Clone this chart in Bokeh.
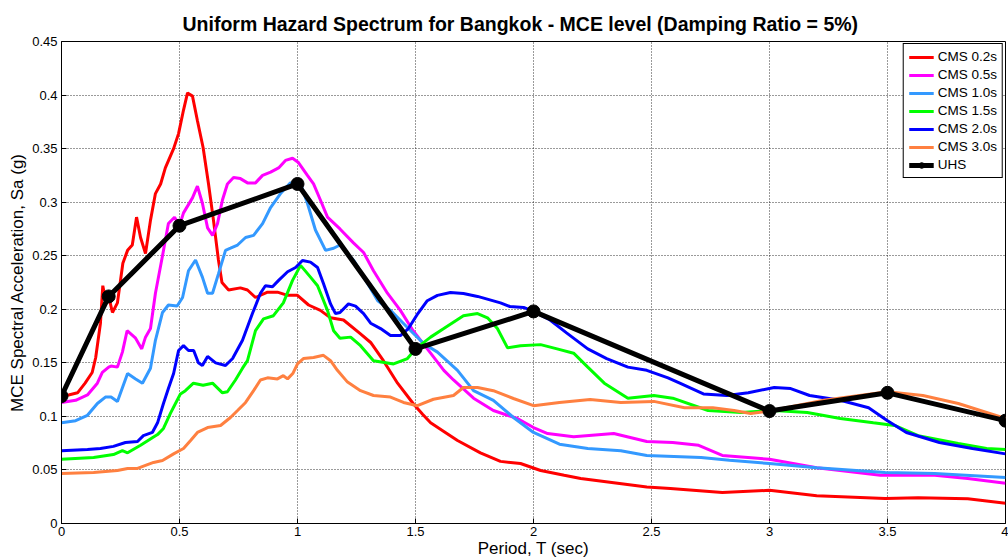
from bokeh.plotting import figure
from bokeh.models import Range1d, FixedTicker, Legend, LegendItem, CustomJSTickFormatter
from bokeh.embed import file_html
from bokeh.resources import INLINE

# Conditional mean spectra (CMS) anchored at six periods, and the UHS they envelope
cms02_T = [0, 0.03, 0.068, 0.1, 0.13, 0.145, 0.165, 0.175, 0.19, 0.2, 0.216, 0.237, 0.26, 0.28,
           0.30, 0.318, 0.335, 0.356, 0.377, 0.398, 0.42, 0.44, 0.475, 0.496, 0.517, 0.534, 0.555,
           0.576, 0.60, 0.623, 0.644, 0.665, 0.68, 0.708, 0.758, 0.788, 0.822, 0.873, 0.915, 0.958,
           1.0, 1.047, 1.097, 1.14, 1.195, 1.267, 1.31, 1.364, 1.424, 1.49, 1.53, 1.564, 1.62, 1.678,
           1.775, 1.86, 1.945, 2.03, 2.13, 2.2, 2.34, 2.48, 2.58, 2.8, 3.0, 3.2, 3.49, 3.63, 3.84, 4.0]
cms02_Sa = [0.119, 0.12, 0.122, 0.131, 0.141, 0.155, 0.187, 0.222, 0.205, 0.212, 0.197, 0.206, 0.243,
            0.255, 0.26, 0.286, 0.267, 0.252, 0.283, 0.308, 0.317, 0.332, 0.35, 0.364, 0.386, 0.402,
            0.399, 0.376, 0.351, 0.317, 0.283, 0.246, 0.225, 0.218, 0.220, 0.218, 0.211, 0.216, 0.216,
            0.213, 0.213, 0.204, 0.199, 0.192, 0.19, 0.177, 0.169, 0.152, 0.131, 0.112, 0.102, 0.094,
            0.086, 0.0775, 0.066, 0.058, 0.056, 0.0495, 0.045, 0.042, 0.038, 0.034, 0.0327, 0.029,
            0.031, 0.026, 0.0233, 0.024, 0.023, 0.019]

cms05_T = [0, 0.06, 0.11, 0.152, 0.173, 0.2, 0.21, 0.237, 0.258, 0.278, 0.314, 0.34, 0.356, 0.377,
           0.398, 0.428, 0.453, 0.479, 0.5, 0.517, 0.555, 0.576, 0.597, 0.619, 0.64, 0.661, 0.682,
           0.703, 0.729, 0.758, 0.788, 0.822, 0.852, 0.886, 0.92, 0.949, 0.979, 1.004, 1.042, 1.068,
           1.097, 1.127, 1.18, 1.237, 1.28, 1.322, 1.381, 1.436, 1.49, 1.564, 1.62, 1.661, 1.746,
           1.83, 1.932, 2.0, 2.06, 2.17, 2.34, 2.48, 2.59, 2.7, 2.8, 3.0, 3.2, 3.47, 3.7, 3.84, 4.0]
cms05_Sa = [0.113, 0.115, 0.12, 0.131, 0.141, 0.146, 0.147, 0.146, 0.16, 0.18, 0.173, 0.163, 0.174,
            0.182, 0.215, 0.25, 0.28, 0.286, 0.278, 0.29, 0.304, 0.315, 0.299, 0.276, 0.269, 0.28,
            0.302, 0.317, 0.323, 0.322, 0.318, 0.318, 0.325, 0.328, 0.332, 0.339, 0.341, 0.337, 0.325,
            0.317, 0.302, 0.286, 0.275, 0.262, 0.253, 0.236, 0.215, 0.199, 0.18, 0.159, 0.143, 0.134,
            0.117, 0.1055, 0.098, 0.0896, 0.084, 0.081, 0.084, 0.0766, 0.0756, 0.073, 0.0635, 0.06,
            0.052, 0.045, 0.045, 0.042, 0.0375]

cms10_T = [0, 0.06, 0.11, 0.152, 0.186, 0.21, 0.237, 0.28, 0.314, 0.343, 0.377, 0.398, 0.428, 0.453,
           0.49, 0.513, 0.538, 0.568, 0.597, 0.619, 0.64, 0.665, 0.695, 0.716, 0.746, 0.78, 0.814,
           0.852, 0.886, 0.928, 0.97, 1.0, 1.013, 1.042, 1.076, 1.119, 1.153, 1.18, 1.24, 1.297, 1.34,
           1.394, 1.466, 1.534, 1.593, 1.678, 1.746, 1.83, 1.915, 2.0, 2.11, 2.23, 2.37, 2.48, 2.71,
           2.83, 3.0, 3.2, 3.49, 3.7, 4.0]
cms10_Sa = [0.094, 0.096, 0.101, 0.112, 0.118, 0.118, 0.114, 0.14, 0.135, 0.131, 0.145, 0.171, 0.197,
            0.204, 0.203, 0.211, 0.236, 0.246, 0.23, 0.215, 0.215, 0.233, 0.255, 0.257, 0.26, 0.267,
            0.269, 0.28, 0.295, 0.308, 0.318, 0.317, 0.317, 0.299, 0.274, 0.255, 0.257, 0.26, 0.245,
            0.224, 0.208, 0.199, 0.183, 0.168, 0.16, 0.143, 0.124, 0.115, 0.099, 0.085, 0.074, 0.070,
            0.068, 0.0635, 0.0616, 0.059, 0.056, 0.052, 0.0476, 0.0467, 0.043]

cms15_T = [0, 0.136, 0.22, 0.258, 0.28, 0.335, 0.385, 0.407, 0.432, 0.462, 0.483, 0.504, 0.525, 0.559,
           0.6, 0.64, 0.682, 0.703, 0.737, 0.767, 0.788, 0.822, 0.856, 0.898, 0.94, 0.979, 1.013,
           1.055, 1.085, 1.127, 1.153, 1.18, 1.225, 1.267, 1.322, 1.407, 1.466, 1.5, 1.564, 1.62,
           1.703, 1.763, 1.805, 1.847, 1.89, 1.945, 2.03, 2.1, 2.17, 2.23, 2.3, 2.4, 2.51, 2.59, 2.74,
           2.88, 3.02, 3.16, 3.3, 3.44, 3.53, 3.63, 3.8, 3.92, 4.0]
cms15_Sa = [0.06, 0.0616, 0.0644, 0.068, 0.066, 0.073, 0.080, 0.083, 0.0887, 0.103, 0.112, 0.121,
            0.124, 0.131, 0.129, 0.131, 0.122, 0.123, 0.134, 0.145, 0.152, 0.18, 0.191, 0.194, 0.206,
            0.227, 0.241, 0.23, 0.222, 0.199, 0.18, 0.173, 0.174, 0.166, 0.152, 0.149, 0.154, 0.163,
            0.174, 0.182, 0.194, 0.196, 0.192, 0.182, 0.164, 0.166, 0.167, 0.163, 0.159, 0.146, 0.131,
            0.117, 0.1195, 0.117, 0.1055, 0.1036, 0.1055, 0.1036, 0.098, 0.094, 0.0915, 0.082, 0.0747,
            0.070, 0.069]

cms20_T = [0, 0.11, 0.165, 0.22, 0.271, 0.322, 0.347, 0.385, 0.407, 0.432, 0.453, 0.475, 0.496,
           0.517, 0.538, 0.56, 0.58, 0.597, 0.619, 0.653, 0.695, 0.725, 0.767, 0.809, 0.843, 0.864,
           0.894, 0.92, 0.958, 0.992, 1.021, 1.055, 1.085, 1.11, 1.14, 1.161, 1.18, 1.216, 1.246,
           1.28, 1.31, 1.352, 1.394, 1.436, 1.47, 1.51, 1.55, 1.593, 1.648, 1.703, 1.763, 1.86, 1.9,
           1.958, 2.0, 2.07, 2.14, 2.23, 2.31, 2.4, 2.48, 2.57, 2.62, 2.72, 2.82, 2.91, 3.02, 3.09,
           3.17, 3.3, 3.42, 3.5, 3.58, 3.72, 3.86, 4.0]
cms20_Sa = [0.068, 0.069, 0.070, 0.072, 0.0756, 0.0766, 0.082, 0.085, 0.094, 0.112, 0.126, 0.140,
            0.1615, 0.166, 0.1615, 0.1615, 0.150, 0.1475, 0.156, 0.150, 0.1475, 0.154, 0.171, 0.196,
            0.215, 0.222, 0.221, 0.227, 0.235, 0.239, 0.2456, 0.244, 0.239, 0.224, 0.205, 0.196,
            0.197, 0.205, 0.203, 0.196, 0.187, 0.182, 0.1755, 0.1755, 0.182, 0.196, 0.208, 0.213,
            0.2157, 0.2147, 0.212, 0.206, 0.2026, 0.2017, 0.198, 0.19, 0.178, 0.163, 0.154, 0.146,
            0.143, 0.136, 0.131, 0.121, 0.1195, 0.122, 0.127, 0.126, 0.1195, 0.115, 0.108, 0.096,
            0.085, 0.0756, 0.070, 0.065]

cms30_T = [0, 0.136, 0.237, 0.28, 0.322, 0.39, 0.428, 0.475, 0.517, 0.547, 0.576, 0.619, 0.674,
           0.716, 0.746, 0.78, 0.814, 0.843, 0.873, 0.915, 0.94, 0.958, 0.98, 1.0, 1.025, 1.068, 1.11,
           1.14, 1.169, 1.212, 1.267, 1.322, 1.394, 1.449, 1.508, 1.576, 1.661, 1.703, 1.763, 1.83,
           1.915, 2.0, 2.11, 2.24, 2.37, 2.51, 2.64, 2.76, 2.85, 2.92, 3.0, 3.23, 3.5, 3.65, 3.8, 4.0]
cms30_Sa = [0.0467, 0.0476, 0.0495, 0.0514, 0.0514, 0.057, 0.0588, 0.065, 0.070, 0.0775, 0.085,
            0.0896, 0.0915, 0.099, 0.1055, 0.113, 0.124, 0.134, 0.136, 0.135, 0.138, 0.135, 0.14,
            0.149, 0.154, 0.155, 0.157, 0.152, 0.143, 0.132, 0.124, 0.1195, 0.118, 0.113, 0.110,
            0.116, 0.1195, 0.127, 0.127, 0.124, 0.1167, 0.110, 0.113, 0.1158, 0.113, 0.114, 0.108,
            0.108, 0.1055, 0.1027, 0.105, 0.115, 0.123, 0.1195, 0.112, 0.098]

uhs_T = [0, 0.2, 0.5, 1.0, 1.5, 2.0, 3.0, 3.5, 4.0]
uhs_Sa = [0.119, 0.212, 0.278, 0.317, 0.163, 0.198, 0.105, 0.122, 0.096]

series_labels = ["CMS 0.2s", "CMS 0.5s", "CMS 1.0s", "CMS 1.5s", "CMS 2.0s", "CMS 3.0s"]
series_colors = ["#FF0000", "#FF00FF", "#3399FF", "#00FF00", "#0000FF", "#FF8040"]
x_ticks = [0, 0.5, 1, 1.5, 2, 2.5, 3, 3.5, 4]
y_ticks = [0, 0.05, 0.1, 0.15, 0.2, 0.25, 0.3, 0.35, 0.4, 0.45]

FONT = "Liberation Sans"

p = figure(width=1008, height=560, output_backend="svg", toolbar_location=None,
           x_range=Range1d(0, 4), y_range=Range1d(0, 0.45),
           min_border_left=61, min_border_right=3, min_border_top=41, min_border_bottom=37,
           title="Uniform Hazard Spectrum for Bangkok - MCE level (Damping Ratio = 5%)")

p.title.align = "left"
p.title.offset = 121
p.title.text_font = FONT
p.title.text_font_size = "19.5px"
p.title.text_font_style = "bold"
p.title.text_color = "black"
p.title.standoff = 13

p.background_fill_color = "white"
p.border_fill_color = "white"
p.outline_line_color = "black"
p.outline_line_alpha = 1.0
p.outline_line_width = 1

fmt = CustomJSTickFormatter(code="return String(+tick.toFixed(2));")
p.xaxis.ticker = FixedTicker(ticks=x_ticks)
p.yaxis.ticker = FixedTicker(ticks=y_ticks)
p.xaxis.formatter = fmt
p.yaxis.formatter = fmt

for ax in (p.xaxis, p.yaxis):
    ax.axis_line_color = "black"
    ax.major_tick_line_color = "black"
    ax.major_tick_in = 5
    ax.major_tick_out = 0
    ax.minor_tick_line_color = None
    ax.major_label_text_font = FONT
    ax.major_label_text_font_size = "13px"
    ax.major_label_text_color = "black"
    ax.axis_label_text_font = FONT
    ax.axis_label_text_font_size = "17px"
    ax.axis_label_text_font_style = "normal"
    ax.axis_label_text_color = "black"

p.xaxis.axis_label = "Period, T (sec)"
p.yaxis.axis_label = "MCE Spectral Acceleration, Sa (g)"
p.xaxis.major_label_standoff = 3
p.xaxis.axis_label_standoff = 0
p.yaxis.major_label_standoff = 4
p.yaxis.axis_label_standoff = 2

for g in (p.xgrid, p.ygrid):
    g.grid_line_color = "#111111"
    g.grid_line_alpha = 0.85
    g.grid_line_dash = "1 2"
    g.grid_line_width = 1

all_T = [cms02_T, cms05_T, cms10_T, cms15_T, cms20_T, cms30_T]
all_Sa = [cms02_Sa, cms05_Sa, cms10_Sa, cms15_Sa, cms20_Sa, cms30_Sa]

items = []
for T, Sa, lab, col in zip(all_T, all_Sa, series_labels, series_colors):
    r = p.line(T, Sa, line_color=col, line_width=3)
    items.append(LegendItem(label=lab, renderers=[r]))

uhs_line = p.line(uhs_T, uhs_Sa, line_color="black", line_width=5)
uhs_pts = p.scatter(uhs_T, uhs_Sa, marker="circle", size=13, fill_color="black", line_color="black")
items.append(LegendItem(label="UHS", renderers=[uhs_line, uhs_pts]))

legend = Legend(items=items, location="top_right")
legend.border_line_color = "black"
legend.border_line_width = 1
legend.border_line_alpha = 1
legend.background_fill_color = "white"
legend.background_fill_alpha = 1
legend.margin = 2
legend.padding = 5
legend.spacing = 3
legend.glyph_width = 25
legend.glyph_height = 14
legend.label_height = 14
legend.label_standoff = 4
legend.label_text_font = FONT
legend.label_text_font_size = "13.5px"
legend.label_text_color = "black"
p.add_layout(legend)

open("out.html", "w").write(file_html(p, INLINE))
